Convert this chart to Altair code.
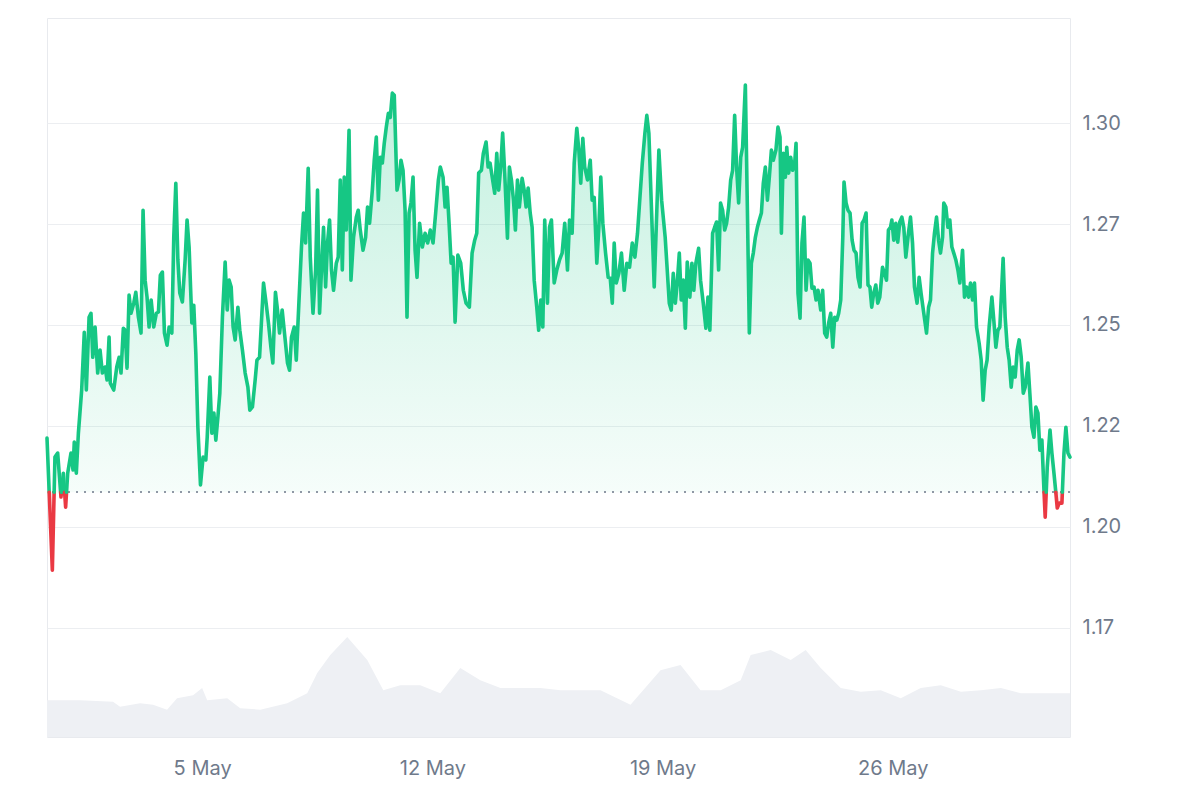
import altair as alt
import pandas as pd

# ---------------- data ----------------
start_day = "2024-04-30"          # hours below are counted from this midnight
baseline_price = 1.2086            # dotted reference line (period open)

price_hours = [
    6.8, 10.7, 12.6, 14.6, 17.0, 18.7, 20.4, 21.9, 24.3, 25.8,
    26.7, 28.2, 29.7, 32.1, 34.0, 35.5, 37.5, 38.9, 40.2, 41.9,
    43.8, 45.5, 47.2, 49.2, 50.6, 52.1, 53.0, 55.5, 57.7, 59.4,
    60.8, 62.5, 63.8, 65.2, 66.7, 68.1, 70.1, 71.6, 73.5, 75.4,
    76.9, 78.4, 79.8, 81.3, 82.8, 84.7, 86.6, 88.1, 89.5, 91.0,
    92.5, 94.4, 95.9, 97.9, 99.3, 100.8, 102.3, 103.7, 105.6, 107.6,
    109.0, 110.5, 112.5, 113.9, 115.4, 116.9, 118.8, 120.7, 122.7, 123.7,
    125.6, 127.1, 128.6, 130.0, 131.5, 132.9, 134.8, 136.8, 138.3, 139.7,
    141.2, 142.6, 144.1, 146.1, 147.5, 149.4, 151.4, 153.4, 154.8, 156.7,
    158.7, 160.0, 161.9, 164.8, 166.7, 168.4, 170.2, 171.6, 173.5, 175.0,
    176.5, 178.4, 180.4, 182.3, 183.8, 185.2, 187.2, 188.7, 190.6, 192.5,
    194.0, 195.5, 197.4, 198.9, 200.9, 202.8, 204.2, 205.7, 207.1, 208.6,
    210.1, 211.5, 213.0, 214.4, 215.9, 217.9, 219.3, 220.8, 222.3, 223.7,
    225.2, 227.2, 228.6, 230.5, 232.5, 233.9, 235.4, 237.4, 239.3, 240.7,
    242.2, 244.2, 245.6, 247.1, 248.6, 250.0, 251.5, 252.9, 254.4, 255.9,
    257.3, 258.8, 260.2, 262.2, 263.7, 265.1, 266.6, 268.1, 269.5, 271.0,
    272.4, 273.9, 275.4, 276.8, 278.7, 280.7, 282.7, 284.6, 286.5, 288.5,
    290.4, 292.4, 293.8, 295.8, 297.3, 298.7, 300.2, 301.7, 303.1, 304.6,
    306.6, 308.7, 310.6, 312.6, 315.0, 317.0, 318.9, 320.4, 321.8, 323.8,
    325.2, 327.2, 328.7, 330.1, 332.0, 333.5, 335.0, 336.4, 337.9, 339.3,
    340.8, 342.8, 344.2, 345.7, 347.2, 348.6, 350.1, 351.5, 353.5, 355.0,
    356.4, 357.9, 359.4, 360.8, 362.3, 364.2, 365.6, 367.1, 368.6, 370.0,
    372.0, 373.5, 374.9, 376.9, 378.8, 380.8, 382.7, 384.6, 386.6, 388.1,
    390.0, 391.5, 393.4, 394.9, 396.3, 397.8, 399.2, 401.2, 403.2, 404.6,
    406.1, 408.0, 409.5, 410.9, 412.4, 414.4, 416.3, 417.8, 419.3, 420.7,
    422.2, 424.1, 426.0, 428.0, 429.9, 431.9, 433.9, 435.8, 437.7, 439.2,
    441.2, 443.1, 444.5, 446.0, 448.0, 449.9, 451.8, 453.3, 455.3, 457.9,
    459.4, 460.9, 462.3, 463.8, 465.3, 466.7, 468.2, 469.6, 471.1, 472.6,
    474.0, 475.9, 477.4, 478.8, 480.3, 482.3, 483.7, 485.7, 487.6, 489.1,
    490.5, 492.5, 494.0, 495.4, 496.9, 498.3, 499.8, 501.3, 502.7, 504.2,
    505.7, 507.1, 508.6, 510.0, 511.5, 513.0, 514.4, 516.4, 517.9, 519.3,
    520.8, 522.2, 523.7, 525.2, 526.6, 528.1, 529.5, 531.0, 532.5, 533.9,
    535.4, 536.8, 538.7, 540.2, 541.7, 542.7, 544.1, 545.6, 546.6, 548.0,
    549.5, 550.9, 552.4, 553.4, 554.8, 556.3, 557.7, 559.2, 560.7, 562.1,
    563.6, 565.0, 566.5, 568.0, 569.4, 571.4, 572.8, 574.3, 575.8, 577.2,
    578.7, 580.2, 581.6, 583.1, 584.5, 586.0, 587.5, 588.4, 589.9, 591.3,
    592.8, 594.3, 595.7, 597.2, 598.6, 600.1, 601.6, 603.0, 604.5, 605.9,
    607.3, 608.6, 610.1, 611.6, 613.0, 614.5, 616.5, 617.9, 619.4, 620.8,
    622.3, 623.3, 624.7, 626.2, 627.6, 629.1, 630.6, 632.0, 633.5, 635.4,
    636.9, 638.4, 639.8, 641.7, 643.2, 644.6, 646.6, 648.6, 650.1, 651.5,
    653.0, 654.4, 655.9, 657.4, 658.8, 660.3, 661.2, 662.7, 664.2, 665.6,
    667.1, 668.5, 670.0, 671.5, 672.9, 674.9, 676.3, 677.8, 679.3, 680.7,
    682.2, 683.6, 685.1, 687.0, 688.5, 689.9, 691.4, 692.8, 694.3, 696.3,
    697.7, 699.2, 700.7, 702.1, 704.5, 706.0, 707.5, 708.9, 710.4, 711.8,
    713.3, 714.8, 716.2, 717.7, 719.2, 720.6, 722.6, 724.0, 725.5, 727.0,
    728.4, 729.9, 731.3, 732.8, 734.3, 735.2, 736.7, 738.7, 740.1, 741.6,
    743.0, 744.0, 745.4, 747.4, 748.9, 750.3, 751.8, 753.3,
]

prices = [
    1.2220, 1.1893, 1.2173, 1.2183, 1.2074, 1.2133, 1.2049, 1.2133, 1.2183, 1.2141,
    1.2210, 1.2133, 1.2232, 1.2339, 1.2482, 1.2339, 1.2519, 1.2529, 1.2420, 1.2495,
    1.2381, 1.2438, 1.2381, 1.2396, 1.2364, 1.2470, 1.2356, 1.2339, 1.2396, 1.2420,
    1.2381, 1.2492, 1.2487, 1.2393, 1.2574, 1.2529, 1.2554, 1.2581, 1.2519, 1.2480,
    1.2784, 1.2611, 1.2569, 1.2495, 1.2562, 1.2495, 1.2529, 1.2532, 1.2623, 1.2631,
    1.2480, 1.2450, 1.2495, 1.2480, 1.2717, 1.2851, 1.2661, 1.2579, 1.2557, 1.2661,
    1.2760, 1.2693, 1.2505, 1.2549, 1.2430, 1.2247, 1.2104, 1.2173, 1.2166, 1.2222,
    1.2371, 1.2232, 1.2282, 1.2215, 1.2272, 1.2331, 1.2519, 1.2656, 1.2537, 1.2611,
    1.2594, 1.2495, 1.2463, 1.2544, 1.2487, 1.2438, 1.2381, 1.2346, 1.2289, 1.2297,
    1.2364, 1.2413, 1.2420, 1.2604, 1.2554, 1.2505, 1.2445, 1.2406, 1.2581, 1.2537,
    1.2480, 1.2537, 1.2470, 1.2406, 1.2388, 1.2470, 1.2495, 1.2413, 1.2554, 1.2693,
    1.2777, 1.2703, 1.2888, 1.2668, 1.2529, 1.2636, 1.2834, 1.2529, 1.2636, 1.2742,
    1.2594, 1.2703, 1.2760, 1.2636, 1.2586, 1.2653, 1.2668, 1.2859, 1.2636, 1.2866,
    1.2735, 1.2982, 1.2611, 1.2717, 1.2767, 1.2784, 1.2735, 1.2685, 1.2717, 1.2792,
    1.2752, 1.2834, 1.2908, 1.2965, 1.2809, 1.2915, 1.2901, 1.2950, 1.2990, 1.3024,
    1.3014, 1.3074, 1.3069, 1.2834, 1.2859, 1.2908, 1.2883, 1.2784, 1.2519, 1.2777,
    1.2802, 1.2866, 1.2685, 1.2618, 1.2752, 1.2693, 1.2727, 1.2703, 1.2735, 1.2703,
    1.2777, 1.2859, 1.2891, 1.2866, 1.2792, 1.2841, 1.2752, 1.2653, 1.2668, 1.2507,
    1.2673, 1.2653, 1.2586, 1.2554, 1.2544, 1.2678, 1.2710, 1.2727, 1.2876, 1.2883,
    1.2925, 1.2953, 1.2891, 1.2901, 1.2859, 1.2826, 1.2925, 1.2834, 1.2891, 1.2975,
    1.2876, 1.2715, 1.2891, 1.2859, 1.2809, 1.2735, 1.2859, 1.2792, 1.2863, 1.2834,
    1.2792, 1.2839, 1.2777, 1.2742, 1.2611, 1.2544, 1.2487, 1.2562, 1.2495, 1.2760,
    1.2554, 1.2742, 1.2760, 1.2604, 1.2636, 1.2661, 1.2678, 1.2752, 1.2636, 1.2760,
    1.2727, 1.2901, 1.2987, 1.2933, 1.2851, 1.2962, 1.2891, 1.2859, 1.2908, 1.2809,
    1.2816, 1.2653, 1.2742, 1.2866, 1.2752, 1.2678, 1.2618, 1.2616, 1.2554, 1.2703,
    1.2604, 1.2628, 1.2678, 1.2586, 1.2653, 1.2643, 1.2703, 1.2668, 1.2727, 1.2802,
    1.2901, 1.2975, 1.3019, 1.2975, 1.2777, 1.2594, 1.2784, 1.2933, 1.2809, 1.2717,
    1.2636, 1.2554, 1.2537, 1.2628, 1.2554, 1.2604, 1.2678, 1.2562, 1.2611, 1.2492,
    1.2656, 1.2569, 1.2653, 1.2586, 1.2653, 1.2690, 1.2611, 1.2554, 1.2492, 1.2569,
    1.2487, 1.2727, 1.2742, 1.2755, 1.2636, 1.2802, 1.2784, 1.2735, 1.2752, 1.2792,
    1.2859, 1.2883, 1.3019, 1.2891, 1.2802, 1.2915, 1.2940, 1.3094, 1.2784, 1.2480,
    1.2653, 1.2678, 1.2717, 1.2742, 1.2760, 1.2777, 1.2851, 1.2891, 1.2809, 1.2866,
    1.2933, 1.2908, 1.2933, 1.2990, 1.2965, 1.2727, 1.2925, 1.2866, 1.2940, 1.2876,
    1.2915, 1.2883, 1.2901, 1.2950, 1.2579, 1.2517, 1.2703, 1.2767, 1.2586, 1.2661,
    1.2653, 1.2591, 1.2594, 1.2562, 1.2586, 1.2537, 1.2586, 1.2480, 1.2470, 1.2505,
    1.2529, 1.2445, 1.2519, 1.2512, 1.2529, 1.2562, 1.2717, 1.2854, 1.2802, 1.2784,
    1.2777, 1.2710, 1.2685, 1.2678, 1.2618, 1.2594, 1.2752, 1.2760, 1.2777, 1.2599,
    1.2594, 1.2544, 1.2579, 1.2599, 1.2554, 1.2569, 1.2643, 1.2628, 1.2611, 1.2735,
    1.2742, 1.2760, 1.2710, 1.2752, 1.2705, 1.2755, 1.2767, 1.2742, 1.2668, 1.2727,
    1.2767, 1.2703, 1.2594, 1.2554, 1.2618, 1.2579, 1.2529, 1.2480, 1.2544, 1.2562,
    1.2678, 1.2727, 1.2767, 1.2710, 1.2678, 1.2717, 1.2802, 1.2792, 1.2742, 1.2760,
    1.2693, 1.2678, 1.2661, 1.2636, 1.2604, 1.2685, 1.2569, 1.2594, 1.2569, 1.2604,
    1.2562, 1.2604, 1.2495, 1.2455, 1.2413, 1.2314, 1.2388, 1.2413, 1.2495, 1.2569,
    1.2512, 1.2445, 1.2487, 1.2495, 1.2665, 1.2519, 1.2445, 1.2413, 1.2346, 1.2396,
    1.2371, 1.2438, 1.2463, 1.2420, 1.2331, 1.2346, 1.2406, 1.2331, 1.2247, 1.2222,
    1.2297, 1.2282, 1.2190, 1.2215, 1.2091, 1.2024, 1.2148, 1.2240, 1.2183, 1.2133,
    1.2084, 1.2047, 1.2059, 1.2059, 1.2183, 1.2247, 1.2183, 1.2173,
]

volume_hours = [
    6.8, 30.9, 55.0, 60.1, 74.7, 84.2, 94.4, 101.7, 113.4, 120.0,
    123.7, 138.3, 147.8, 162.4, 182.1, 196.7, 204.0, 213.5, 225.9, 240.5,
    252.2, 264.6, 279.2, 293.8, 308.4, 323.0, 337.7, 366.9, 381.5, 410.7,
    432.6, 454.5, 469.1, 483.7, 498.4, 513.0, 520.3, 534.9, 549.5, 560.4,
    571.4, 586.0, 600.6, 615.2, 629.8, 644.4, 659.0, 673.7, 688.3, 702.9,
    717.5, 753.3,
]
volume_musd = [
    51, 51, 49, 42, 47, 45, 38, 54, 58, 68,
    51, 54, 40, 38, 47, 61, 89, 114, 139, 107,
    65, 72, 72, 61, 96, 79, 68, 68, 65, 65,
    45, 93, 100, 65, 65, 79, 114, 121, 107, 121,
    96, 68, 63, 65, 54, 68, 72, 63, 65, 68,
    61, 61,
]

y_tick_values = [1.175, 1.20, 1.225, 1.25, 1.275, 1.30]
y_tick_labels = ["1.17", "1.20", "1.22", "1.25", "1.27", "1.30"]
x_tick_days = [5, 12, 19, 26]          # May

# ---------------- helpers ----------------
GREEN = "#16c784"
RED = "#ea3943"
LABEL = "#6f7a8b"
FONT = "Inter"

t0 = pd.Timestamp(start_day)
n = min(len(price_hours), len(prices))


def stamp(h):
    return (t0 + pd.to_timedelta(h, unit="h")).strftime("%Y-%m-%dT%H:%M:%S")


# split the series into above / below baseline runs (with crossing points)
base = baseline_price
rows = []
seg = 0
side_of = lambda p: "up" if p >= base else "down"
cur = side_of(prices[0])
rows.append((price_hours[0], prices[0], seg, cur))
for i in range(1, n):
    h0, p0 = price_hours[i - 1], prices[i - 1]
    h1, p1 = price_hours[i], prices[i]
    s1 = side_of(p1)
    if s1 != cur:
        f = (base - p0) / (p1 - p0)
        hc = h0 + f * (h1 - h0)
        rows.append((hc, base, seg, cur))
        seg += 1
        cur = s1
        rows.append((hc, base, seg, cur))
    rows.append((h1, p1, seg, cur))

price_df = pd.DataFrame(rows, columns=["h", "price", "seg", "side"])
price_df["time"] = price_df["h"].map(stamp)
price_df["p_up"] = price_df["price"].clip(lower=base)
price_df["p_dn"] = price_df["price"].clip(upper=base)

vol_df = pd.DataFrame({"time": [stamp(h) for h in volume_hours], "vol": volume_musd})


def dt(ts):
    return alt.DateTime(year=ts.year, month=ts.month, date=ts.day,
                        hours=ts.hour, minutes=ts.minute)


x_domain = [dt(t0 + pd.to_timedelta(price_hours[0], unit="h")),
            dt(t0 + pd.to_timedelta(price_hours[n - 1], unit="h"))]

x_enc = alt.X(
    "time:T",
    scale=alt.Scale(domain=x_domain, nice=False),
    axis=alt.Axis(
        values=[alt.DateTime(year=2024, month=5, date=d) for d in x_tick_days],
        format="%-d %b", title=None, grid=False, domain=False, ticks=False,
        labelPadding=21, labelFontSize=20, labelColor=LABEL, labelFont=FONT,
    ),
)

label_expr = ""
for v, lab in zip(y_tick_values, y_tick_labels):
    label_expr += f"abs(datum.value - {v}) < 0.001 ? '{lab}' : "
label_expr += "format(datum.value, '.2f')"

y_scale = alt.Scale(domain=[1.148, 1.326], nice=False, zero=False)
y_axis = alt.Axis(
    orient="right", values=y_tick_values, labelExpr=label_expr, title=None,
    grid=True, gridColor="#eceef1", gridWidth=1, domain=False, ticks=False,
    labelPadding=12, labelFontSize=20, labelColor=LABEL, labelFont=FONT,
)

# volume (background, own scale)
volume = alt.Chart(vol_df).mark_area(color="#eef0f4", interpolate="linear").encode(
    x=x_enc,
    y=alt.Y("vol:Q", scale=alt.Scale(domain=[0, 1000]), axis=None),
)

green_fill = alt.Chart(price_df).mark_area(
    interpolate="linear",
    color=alt.Gradient(
        gradient="linear",
        stops=[alt.GradientStop(color="rgba(22,199,132,0.04)", offset=0),
               alt.GradientStop(color="rgba(22,199,132,0.26)", offset=1)],
        x1=1, x2=1, y1=1, y2=0,
    ),
).encode(
    x=x_enc,
    y=alt.Y("p_up:Q", scale=y_scale, axis=y_axis),
    y2=alt.datum(base),
)

red_fill = alt.Chart(price_df).mark_area(
    interpolate="linear", color="rgba(234,57,67,0.10)"
).encode(
    x=x_enc,
    y=alt.Y("p_dn:Q", scale=y_scale),
    y2=alt.datum(base),
)

base_rule = alt.Chart(price_df).mark_rule(
    color="#8f98a5", strokeDash=[2, 6], strokeWidth=1.6
).encode(y=alt.datum(base))

line = alt.Chart(price_df).mark_line(
    strokeWidth=3.6, strokeJoin="round", strokeCap="round", interpolate="linear"
).encode(
    x=x_enc,
    y=alt.Y("price:Q", scale=y_scale),
    detail="seg:N",
    color=alt.Color("side:N", scale=alt.Scale(domain=["up", "down"], range=[GREEN, RED]),
                    legend=None),
)

price_layer = alt.layer(green_fill, red_fill, base_rule, line)

chart = alt.layer(volume, price_layer).resolve_scale(y="independent").properties(
    width=1023, height=719,
    padding={"left": 37, "top": 10, "right": 5, "bottom": 5},
    background="white",
).configure_view(stroke="#e8eaee", strokeWidth=1)

chart.save("out.html", embed_options={"renderer": "svg", "actions": False})
